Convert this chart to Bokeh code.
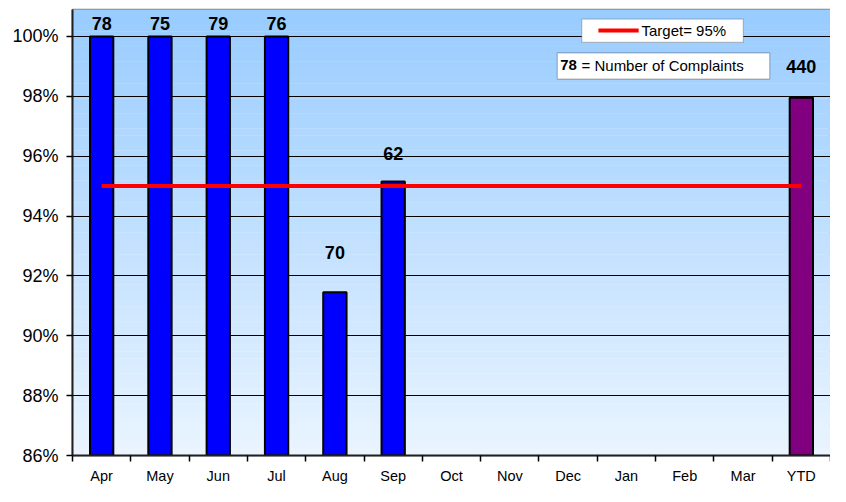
import math
from bokeh.plotting import figure
from bokeh.models import (ColumnDataSource, Range1d, FixedTicker, PrintfTickFormatter,
                          BoxAnnotation, Label)
from bokeh.core.properties import value
from bokeh.embed import file_html
from bokeh.resources import INLINE

# ---------------- data ----------------
categories = ["Apr", "May", "Jun", "Jul", "Aug", "Sep", "Oct", "Nov", "Dec",
              "Jan", "Feb", "Mar", "YTD"]
compliance = [100.0, 100.0, 100.0, 100.0, 91.45, 95.15, None, None, None,
              None, None, None, 97.95]
complaints = ["78", "75", "79", "76", "70", "62", None, None, None,
              None, None, None, "440"]
target = 95.0
y_ticks = [86, 88, 90, 92, 94, 96, 98, 100]

# ---------------- styles ----------------
FONT = "Liberation Sans"
bar_colors = {"YTD": "#800080"}
default_bar = "#0000FF"
label_offsets = {"Aug": -40, "Sep": -28, "YTD": -31}

Y_MIN, Y_MAX = 86.0, 100.9
n = len(categories)

p = figure(width=830, height=486, output_backend="svg", toolbar_location=None,
           x_range=Range1d(-0.5, n - 0.5), y_range=Range1d(Y_MIN, Y_MAX),
           min_border_left=72, min_border_right=0, min_border_top=9,
           min_border_bottom=0)
p.background_fill_color = "white"
p.border_fill_color = "white"
p.outline_line_color = "#808080"
p.outline_line_width = 1.5

# gradient background strips
steps = 60
top_c = (153, 204, 255)
bot_c = (233, 244, 255)
g_bottom, g_top, g_color = [], [], []
for k in range(steps):
    t = k / (steps - 1)
    c = tuple(int(round(bot_c[i] + (top_c[i] - bot_c[i]) * t)) for i in range(3))
    g_bottom.append(Y_MIN + (Y_MAX - Y_MIN) * k / steps)
    g_top.append(Y_MIN + (Y_MAX - Y_MIN) * (k + 1) / steps + 0.01)
    g_color.append("#%02x%02x%02x" % c)
p.quad(left=-0.5, right=n - 0.5, bottom=g_bottom, top=g_top, fill_color=g_color,
       line_color=None, level="underlay")

# grid
p.xgrid.visible = False
p.ygrid.ticker = FixedTicker(ticks=y_ticks)
p.ygrid.grid_line_color = "black"
p.ygrid.grid_line_width = 1
p.ygrid.level = "underlay"

# bars
bx, btop, bcol, lab, loff = [], [], [], [], []
for i, (cat, v, c) in enumerate(zip(categories, compliance, complaints)):
    if v is None:
        continue
    bx.append(i)
    btop.append(v)
    bcol.append(bar_colors.get(cat, default_bar))
    lab.append(c)
    loff.append(label_offsets.get(cat, -13))
src = ColumnDataSource(dict(x=bx, top=btop, color=bcol, label=lab, off=loff))
p.vbar(x="x", top="top", bottom=Y_MIN, width=0.40, fill_color="color",
       line_color="black", line_width=2, source=src)
p.text(x="x", y="top", text="label", y_offset="off", source=src,
       text_align="center", text_baseline="middle",
       text_font=value(FONT), text_font_style="bold", text_font_size="18px",
       text_color="black")

# target line
p.line(x=[0, n - 1], y=[target, target], line_color="#FF0000", line_width=4)

# axes
p.xaxis.ticker = FixedTicker(ticks=list(range(n)),
                             minor_ticks=[i - 0.5 for i in range(n + 1)])
p.xaxis.major_label_overrides = {i: c for i, c in enumerate(categories)}
p.xaxis.major_tick_out = 0
p.xaxis.major_tick_in = 0
p.xaxis.minor_tick_out = 6
p.xaxis.minor_tick_in = 0
p.xaxis.minor_tick_line_color = "black"
p.xaxis.minor_tick_line_width = 1.5
p.xaxis.axis_line_color = "#202020"
p.xaxis.axis_line_width = 2
p.xaxis.major_label_standoff = 6
p.xaxis.major_label_text_font = FONT
p.xaxis.major_label_text_font_size = "14.5px"
p.xaxis.major_label_text_color = "black"

p.yaxis.ticker = FixedTicker(ticks=y_ticks, minor_ticks=[])
p.yaxis.formatter = PrintfTickFormatter(format="%d%%")
p.yaxis.major_tick_out = 6
p.yaxis.major_tick_in = 0
p.yaxis.major_tick_line_color = "black"
p.yaxis.major_tick_line_width = 1.5
p.yaxis.axis_line_color = "#202020"
p.yaxis.axis_line_width = 2
p.yaxis.major_label_standoff = 8
p.yaxis.major_label_text_font = FONT
p.yaxis.major_label_text_font_size = "18px"
p.yaxis.major_label_text_color = "black"

# legend box: target
p.add_layout(BoxAnnotation(left=8.234, right=11.005, bottom=99.80, top=100.58,
                           fill_color="white", fill_alpha=1,
                           line_color="#404040", line_width=1.2, level="annotation"))
p.line(x=[8.52, 9.21], y=[100.20, 100.20], line_color="#FF0000", line_width=4,
       level="overlay")
p.add_layout(Label(x=9.258, y=100.20, text="Target= %d%%" % target,
                   text_font=FONT, text_font_size="15px", text_baseline="middle",
                   text_color="black", level="overlay"))

# legend box: complaints
p.add_layout(BoxAnnotation(left=7.814, right=11.458, bottom=98.577, top=99.45,
                           fill_color="white", fill_alpha=1,
                           line_color="#202020", line_width=1.2, level="annotation"))
p.add_layout(Label(x=7.864, y=99.03, text=complaints[0], text_font=FONT,
                   text_font_size="15px", text_font_style="bold",
                   text_baseline="middle", text_color="black", level="overlay"))
p.add_layout(Label(x=8.23, y=99.03, text="= Number of Complaints", text_font=FONT,
                   text_font_size="15px", text_baseline="middle",
                   text_color="black", level="overlay"))

open("out.html", "w").write(file_html(p, INLINE))
